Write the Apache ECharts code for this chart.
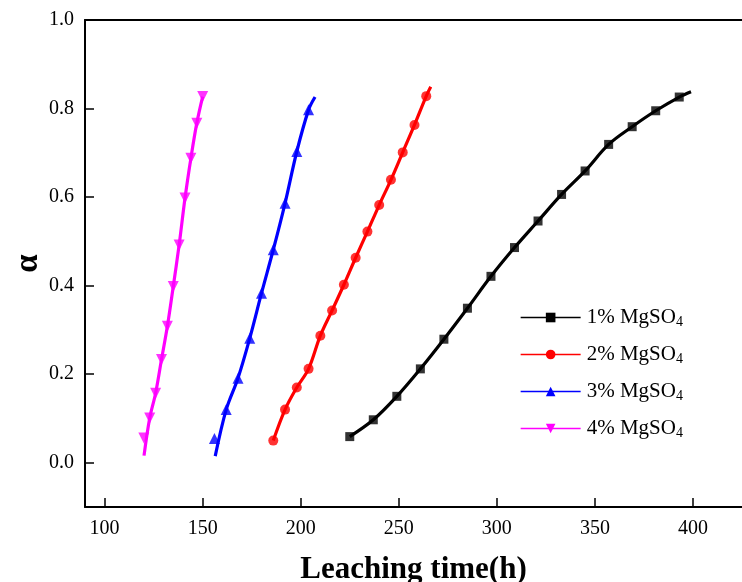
<!DOCTYPE html>
<html>
<head>
<meta charset="utf-8">
<script src="https://cdn.jsdelivr.net/npm/echarts@6/dist/echarts.min.js"></script>
<style>
  html, body { margin: 0; padding: 0; background: #fff; }
  #chart { width: 742px; height: 582px; }
</style>
</head>
<body>
<div id="chart"></div>
<script>
// Axis ticks
const xTicks = [100, 150, 200, 250, 300, 350, 400];
const yTicks = [0, 0.2, 0.4, 0.6, 0.8, 1.0];

const seriesNames = ['1% MgSO4', '2% MgSO4', '3% MgSO4', '4% MgSO4'];
const seriesColors = ['#000000', '#ff0000', '#0000ff', '#ff00ff'];

// 1% MgSO4 : leaching time (h) and leaching fraction
const time1 = [225, 237, 249, 261, 273, 285, 297, 309, 321, 333, 345, 357, 369, 381, 393];
const alpha1 = [0.059, 0.097, 0.150, 0.212, 0.279, 0.349, 0.421, 0.486, 0.546, 0.606, 0.659, 0.719, 0.759, 0.795, 0.826];

// 2% MgSO4
const time2 = [186, 192, 198, 204, 210, 216, 222, 228, 234, 240, 246, 252, 258, 264];
const alpha2 = [0.050, 0.120, 0.170, 0.212, 0.287, 0.344, 0.402, 0.463, 0.522, 0.582, 0.639, 0.701, 0.763, 0.828];

// 3% MgSO4
const time3 = [156, 162, 168, 174, 180, 186, 192, 198, 204];
const alpha3 = [0.055, 0.120, 0.191, 0.281, 0.383, 0.481, 0.586, 0.703, 0.797];

// 4% MgSO4
const time4 = [120, 123, 126, 129, 132, 135, 138, 141, 144, 147, 150];
const alpha4 = [0.056, 0.101, 0.157, 0.233, 0.308, 0.398, 0.492, 0.598, 0.688, 0.767, 0.827];

// Fitted curves: where each curve starts / ends beyond the measured points,
// and how many leading measured points the curve bypasses.
const fitHead1 = [];               const fitTail1 = [[399, 0.838]];   const fitSkip1 = 0;
const fitHead2 = [];               const fitTail2 = [[266.3, 0.849]]; const fitSkip2 = 0;
const fitHead3 = [[156.4, 0.015]]; const fitTail3 = [[207.3, 0.826]]; const fitSkip3 = 1;
const fitHead4 = [[120.1, 0.016]]; const fitTail4 = [];               const fitSkip4 = 1;

const symbols = ['rect', 'circle', 'triangle', 'triangle'];
const symbolRotations = [0, 0, 0, 180];
const symbolSizes = [9, 10, 11, 11];

const pairs = (ts, as) => ts.map((t, i) => [t, as[i]]);
const measured = [pairs(time1, alpha1), pairs(time2, alpha2), pairs(time3, alpha3), pairs(time4, alpha4)];
const heads = [fitHead1, fitHead2, fitHead3, fitHead4];
const tails = [fitTail1, fitTail2, fitTail3, fitTail4];
const skips = [fitSkip1, fitSkip2, fitSkip3, fitSkip4];

const serif = '"Liberation Serif", "Times New Roman", serif';

const series = [];
measured.forEach((pts, i) => {
  series.push({
    type: 'line',
    name: seriesNames[i],
    data: heads[i].concat(pts.slice(skips[i]), tails[i]),
    smooth: 0.35,
    showSymbol: false,
    symbol: symbols[i],
    symbolRotate: symbolRotations[i],
    lineStyle: { color: seriesColors[i], width: 3.2 },
    itemStyle: { color: seriesColors[i] },
    silent: true,
    z: 2
  });
  series.push({
    type: 'scatter',
    name: seriesNames[i],
    data: pts,
    symbol: symbols[i],
    symbolRotate: symbolRotations[i],
    symbolSize: symbolSizes[i],
    itemStyle: { color: seriesColors[i] },
    z: 3
  });
});

const chart = echarts.init(document.getElementById('chart'), null, { renderer: 'canvas' });

chart.setOption({
  animation: false,
  backgroundColor: '#ffffff',
  grid: { left: 85, top: 20, right: 0, bottom: 75, containLabel: false, outerBoundsMode: 'none' },
  legend: {
    orient: 'vertical',
    left: 520,
    top: 307,
    padding: 0,
    itemWidth: 60,
    itemHeight: 12,
    itemGap: 15,
    data: seriesNames,
    lineStyle: { width: 1.3 },
    formatter: name => '{a|' + name.slice(0, -1) + '}{b|' + name.slice(-1) + '}',
    textStyle: {
      color: '#000',
      padding: [0, 0, 0, 1],
      rich: {
        a: { fontFamily: serif, fontSize: 21, lineHeight: 23, color: '#000' },
        b: { fontFamily: serif, fontSize: 14, lineHeight: 10, verticalAlign: 'bottom', color: '#000' }
      }
    }
  },
  xAxis: [
    {
      type: 'value',
      min: 90,
      max: 425,
      position: 'bottom',
      name: 'Leaching time(h)',
      nameLocation: 'middle',
      nameGap: 47,
      nameMoveOverlap: false,
      nameTextStyle: { fontFamily: serif, fontSize: 31, fontWeight: 'bold', color: '#000' },
      axisLine: { show: true, onZero: false, lineStyle: { color: '#000', width: 2 } },
      axisTick: { show: true, inside: true, length: 9, customValues: xTicks, lineStyle: { color: '#000', width: 1.5 } },
      axisLabel: { customValues: xTicks, fontFamily: serif, fontSize: 20, color: '#000', margin: 12 },
      splitLine: { show: false }
    },
    {
      type: 'value',
      min: 90,
      max: 425,
      position: 'top',
      axisLine: { show: true, onZero: false, lineStyle: { color: '#000', width: 2 } },
      axisTick: { show: false },
      axisLabel: { show: false },
      splitLine: { show: false }
    }
  ],
  yAxis: [
    {
      type: 'value',
      min: -0.1,
      max: 1.0,
      position: 'left',
      name: 'α',
      nameLocation: 'middle',
      nameRotate: 90,
      nameGap: 40,
      nameMoveOverlap: false,
      nameTextStyle: { fontFamily: serif, fontSize: 33, fontWeight: 'bold', color: '#000' },
      axisLine: { show: true, onZero: false, lineStyle: { color: '#000', width: 2 } },
      axisTick: { show: true, inside: true, length: 9, customValues: yTicks, lineStyle: { color: '#000', width: 1.5 } },
      axisLabel: {
        customValues: yTicks,
        fontFamily: serif, fontSize: 20, color: '#000', margin: 11,
        formatter: v => v.toFixed(1)
      },
      splitLine: { show: false }
    }
  ],
  series: series
});
</script>
</body>
</html>
